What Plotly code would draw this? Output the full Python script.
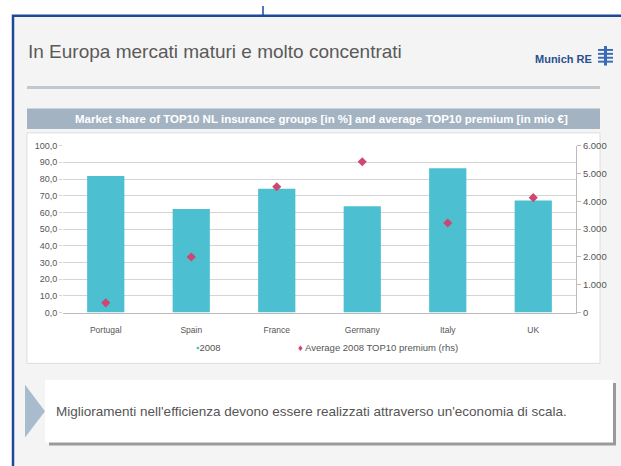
import plotly.graph_objects as go

categories = ["Portugal", "Spain", "France", "Germany", "Italy", "UK"]
share_2008 = [81.8, 62.0, 74.1, 63.7, 86.4, 67.1]
avg_premium = [350, 2000, 4520, 5420, 3220, 4130]
left_ticks = [0, 10, 20, 30, 40, 50, 60, 70, 80, 90, 100]
right_ticks = [0, 1000, 2000, 3000, 4000, 5000, 6000]

W, H = 621, 466
def px(x): return x / W
def py(y): return 1 - y / H

BAR = "#4cbfd0"
DOT = "#cf4670"
GRID = "#d4d4d4"
TXT = "#555555"
FONT = "Liberation Sans"

fig = go.Figure()
fig.add_trace(go.Bar(x=categories, y=share_2008, marker=dict(color=BAR, line=dict(width=0)),
                     name="2008", yaxis="y"))
fig.add_trace(go.Scatter(x=categories, y=avg_premium, mode="markers", yaxis="y2",
                         marker=dict(symbol="diamond", size=7, color=DOT),
                         name="Average 2008 TOP10 premium (rhs)"))

shapes = [
    dict(type="rect", xref="paper", yref="paper", x0=px(13), x1=px(640), y0=py(480), y1=py(10),
         fillcolor="#f4f4f4", line=dict(width=0), layer="below"),
    dict(type="rect", xref="paper", yref="paper", x0=px(13), x1=px(640), y0=py(480), y1=py(10),
         fillcolor="rgba(0,0,0,0)", line=dict(color="#1c4a9a", width=2.5), layer="below"),
    dict(type="line", xref="paper", yref="paper", x0=px(263), x1=px(263), y0=py(0), y1=py(10),
         line=dict(color="#1c4a9a", width=1.5), layer="below"),
    dict(type="rect", xref="paper", yref="paper", x0=px(27), x1=px(600), y0=py(85), y1=py(82),
         fillcolor="#c3c8ce", line=dict(width=0), layer="below"),
    dict(type="rect", xref="paper", yref="paper", x0=px(27), x1=px(600), y0=py(126), y1=py(105),
         fillcolor="#a4b3c2", line=dict(width=0), layer="below"),
    dict(type="rect", xref="paper", yref="paper", x0=px(27), x1=px(600), y0=py(366), y1=py(130),
         fillcolor="white", line=dict(color="#dedede", width=1), layer="below"),
    dict(type="rect", xref="paper", yref="paper", x0=px(49), x1=px(616), y0=py(450), y1=py(386),
         fillcolor="#9a9a9a", line=dict(width=0), layer="below"),
    dict(type="rect", xref="paper", yref="paper", x0=px(45), x1=px(613), y0=py(447), y1=py(383),
         fillcolor="white", line=dict(width=0), layer="below"),
    dict(type="path", xref="paper", yref="paper",
         path=f"M {px(25)} {py(388)} L {px(45)} {py(415)} L {px(25)} {py(442)} Z",
         fillcolor="#a9bccd", line=dict(width=0), layer="below"),
]
for yy in [44, 48, 52, 56]:
    shapes.append(dict(type="rect", xref="paper", yref="paper", x0=px(598), x1=px(613),
                       y0=py(yy + 2), y1=py(yy), fillcolor="#3a6bb5", line=dict(width=0)))
shapes.append(dict(type="rect", xref="paper", yref="paper", x0=px(604), x1=px(607),
                   y0=py(61), y1=py(41), fillcolor="#3a6bb5", line=dict(width=0)))

annotations = [
    dict(text="In Europa mercati maturi e molto concentrati", xref="paper", yref="paper",
         x=px(26), y=py(47), xanchor="left", yanchor="middle", showarrow=False,
         font=dict(family=FONT, size=19, color="#5a5a5a")),
    dict(text="<b>Munich RE</b>", xref="paper", yref="paper", x=px(594), y=py(54),
         xanchor="right", yanchor="middle", showarrow=False,
         font=dict(family=FONT, size=11, color="#2a4f8f")),
    dict(text="<b>Market share of TOP10 NL insurance groups [in %] and average TOP10 premium [in mio €]</b>",
         xref="paper", yref="paper", x=px(321), y=py(115.5), xanchor="center", yanchor="middle",
         showarrow=False, font=dict(family=FONT, size=11.5, color="white")),
    dict(text=f"<span style='color:{BAR}'>▪</span>2008", xref="paper", yref="paper",
         x=px(194), y=py(350), xanchor="left", yanchor="middle", showarrow=False,
         font=dict(family=FONT, size=9.5, color=TXT)),
    dict(text=f"<span style='color:{DOT}'>♦</span> Average 2008 TOP10 premium (rhs)", xref="paper",
         yref="paper", x=px(296), y=py(350), xanchor="left", yanchor="middle", showarrow=False,
         font=dict(family=FONT, size=9.5, color=TXT)),
    dict(text="Miglioramenti nell'efficienza devono essere realizzati attraverso un'economia di scala.",
         xref="paper", yref="paper", x=px(54), y=py(415), xanchor="left", yanchor="middle",
         showarrow=False, font=dict(family=FONT, size=13.5, color=TXT)),
]

fig.update_layout(
    width=W, height=H, margin=dict(l=0, r=0, t=0, b=0),
    paper_bgcolor="white", plot_bgcolor="rgba(0,0,0,0)",
    separators=",.", showlegend=False, bargap=0.565,
    font=dict(family=FONT, size=9, color=TXT),
    xaxis=dict(domain=[px(63), px(576)], showline=True, linecolor="#bbbbbb", linewidth=1,
               ticks="", ticklabelstandoff=9, tickfont=dict(size=8.5, color=TXT), anchor="y",
               fixedrange=True),
    yaxis=dict(domain=[py(314), py(143)], range=[0, 100], tickvals=left_ticks, tickformat=".1f",
               showgrid=True, gridcolor=GRID, gridwidth=1, zeroline=False, showline=False,
               ticks="outside", ticklen=3, tickcolor=GRID, tickfont=dict(size=9, color=TXT)),
    yaxis2=dict(overlaying="y", side="right", range=[0, 6000], tickvals=right_ticks,
                tickformat=",d", showgrid=False, zeroline=False, showline=True,
                linecolor="#bbbbbb", ticks="outside", ticklen=4, tickcolor="#bbbbbb",
                tickfont=dict(size=9.5, color=TXT), anchor="x"),
    shapes=shapes, annotations=annotations,
)
fig.write_html("out.html")
